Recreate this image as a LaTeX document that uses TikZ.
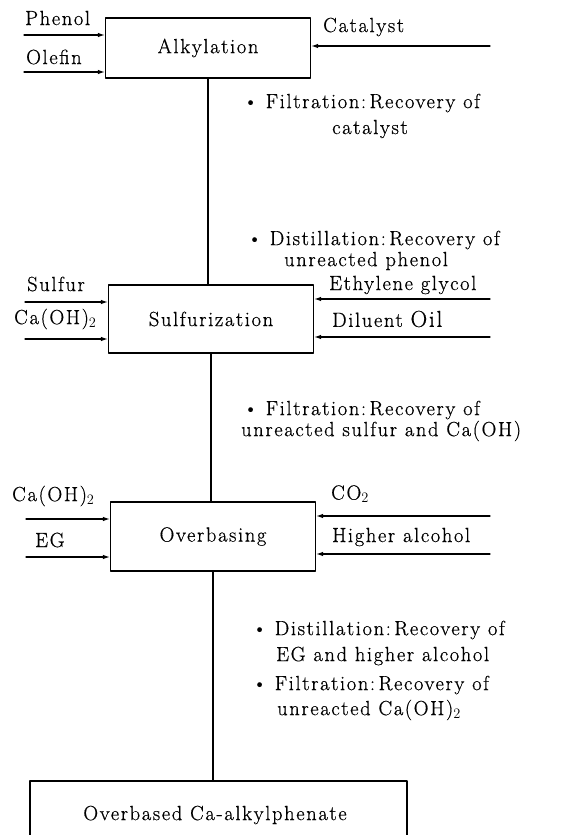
\documentclass[tikz,border=0pt]{standalone}
\usepackage{fontspec}
\setmainfont{Latin Modern Roman}
\usetikzlibrary{arrows.meta, positioning}

\newcommand{\flowfont}{\fontsize{20.5}{23}\selectfont\addfontfeatures{LetterSpace=8,FakeBold=0.6}}
\tikzset{
  unit/.style={draw, line width=1.3pt, minimum width=205pt, inner sep=0pt, font=\flowfont},
  feed/.style={-{Latex[length=7pt,width=4.5pt]}, line width=1.1pt},
  pipe/.style={line width=1.3pt},
  lbl/.style={font=\flowfont, inner sep=0pt, anchor=west},
}

\begin{document}
\begin{tikzpicture}[x=1pt, y=-1pt, line cap=round, line join=round]
  % pagina: stesse proporzioni del disegno
  \clip (0,0) rectangle (576,835);

  % unita' di processo
  \node[unit, minimum height=60pt] (alk) at (208,48) {Alkylation};
  \node[unit, minimum height=68pt] (sul) at (211,319) {Sulfurization};
  \node[unit, minimum height=69pt] (ovb) at (213,536.5) {Overbasing};
  \node[unit, minimum width=377pt, minimum height=80pt] (prod) at (218.5,821) {};
  \node[lbl, anchor=center] (prodtxt) at (215,815) {Overbased Ca-alkylphenate};

  % collegamenti verticali
  \draw[pipe] (alk.south) -- (alk.south |- sul.north);
  \draw[pipe] (sul.south) -- (sul.south |- ovb.north);
  \draw[pipe] (ovb.south) -- (ovb.south |- prod.north);

  % alimentazioni alchilazione
  \coordinate (phenol) at (24,35);
  \coordinate (olefin) at (24,72);
  \coordinate (catalyst) at (490,46);
  \draw[feed] (phenol) -- (phenol -| alk.west);
  \draw[feed] (olefin) -- (olefin -| alk.west);
  \draw[feed] (catalyst) -- (catalyst -| alk.east);
  \node[lbl] (phenoltxt) at (25,18) {Phenol};
  \node[lbl] (olefintxt) at (26,57) {Olefin};
  \node[lbl] (cattxt) at (323,27) {Catalyst};

  % alimentazioni solforazione
  \coordinate (sulfur) at (25,302);
  \coordinate (caoh) at (25,339);
  \coordinate (glycol) at (490,299);
  \coordinate (diluent) at (490,337);
  \draw[feed] (sulfur) -- (sulfur -| sul.west);
  \draw[feed] (caoh) -- (caoh -| sul.west);
  \draw[feed] (glycol) -- (glycol -| sul.east);
  \draw[feed] (diluent) -- (diluent -| sul.east);
  \node[lbl] (sulfurtxt) at (27,284) {Sulfur};
  \node[lbl] (caohtxt) at (14,319) {Ca(OH)$_2$};
  \node[lbl] (glycoltxt) at (329,285) {Ethylene glycol};
  \node[lbl] (diluenttxt) at (332,319) {Diluent {\fontsize{23}{24}\selectfont Oil}};

  % alimentazioni overbasing
  \coordinate (caohb) at (26,519);
  \coordinate (eg) at (26,557);
  \coordinate (co2) at (490,516);
  \coordinate (alcohol) at (490,554);
  \draw[feed] (caohb) -- (caohb -| ovb.west);
  \draw[feed] (eg) -- (eg -| ovb.west);
  \draw[feed] (co2) -- (co2 -| ovb.east);
  \draw[feed] (alcohol) -- (alcohol -| ovb.east);
  \node[lbl] (caohbtxt) at (12,496) {Ca(OH)$_2$};
  \node[lbl] (egtxt) at (35,540) {EG};
  \node[lbl] (co2txt) at (331,494) {CO$_2$};
  \node[lbl] (alcoholtxt) at (332,537) {Higher alcohol};

  % note di recupero
  \node[lbl] (filt1) at (243,103) {\textbullet\ Filtration:\,Recovery of};
  \node[lbl] (filt1b) at (332,129) {catalyst};
  \node[lbl] (dist1) at (247,240) {\textbullet\ Distillation:\,Recovery of};
  \node[lbl] (dist1b) at (284,261) {unreacted phenol};
  \node[lbl] (filt2) at (243,410) {\textbullet\ Filtration:\,Recovery of};
  \node[lbl] (filt2b) at (241,431) {unreacted sulfur and Ca(OH)};
  \node[lbl] (dist2) at (252,630) {\textbullet\ Distillation:\,Recovery of};
  \node[lbl] (dist2b) at (276,656) {EG and higher alcohol};
  \node[lbl] (filt3) at (252,685) {\textbullet\ Filtration:\,Recovery of};
  \node[lbl] (filt3b) at (277,710) {unreacted Ca(OH)$_2$};
\end{tikzpicture}
\end{document}
